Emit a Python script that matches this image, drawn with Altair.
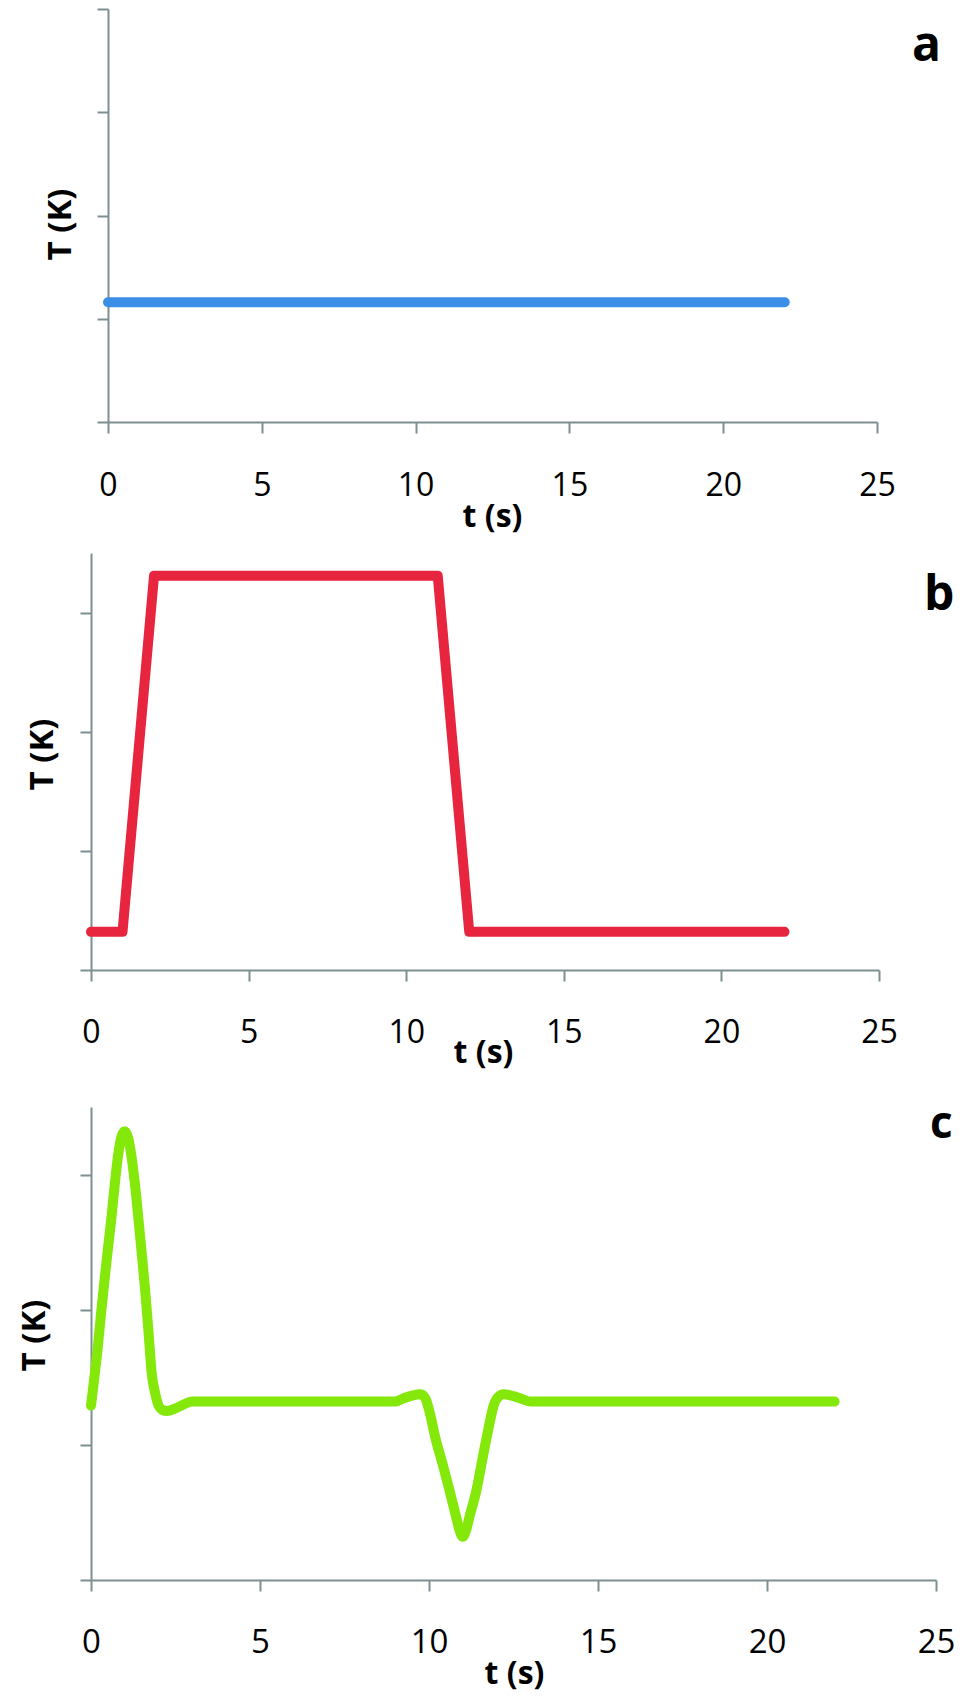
import altair as alt
import pandas as pd

# ---------------- data ----------------
t_a = [0, 22]
T_a = [1.16, 1.16]

t_b = [0, 1, 2, 11, 12, 22]
T_b = [0.32, 0.32, 3.31, 3.31, 0.32, 0.32]

t_c = [0, 0.1, 0.2, 0.3, 0.4, 0.5, 0.6, 0.7, 0.8, 0.9, 1.0, 1.1, 1.2, 1.3, 1.4,
       1.5, 1.6, 1.7, 1.8, 1.9, 2.0, 2.1, 2.25, 2.5, 2.75, 3.0, 9.0, 9.25, 9.5,
       9.75, 9.9, 10.0, 10.2, 10.4, 10.6, 10.8, 10.9, 11.0, 11.1, 11.2, 11.4,
       11.6, 11.8, 11.9, 12.0, 12.2, 12.5, 12.75, 13.0, 22.0]
T_c = [1.29, 1.50, 1.72, 1.98, 2.22, 2.45, 2.67, 2.92, 3.14, 3.28, 3.32, 3.27,
       3.13, 2.93, 2.68, 2.42, 2.15, 1.84, 1.52, 1.38, 1.29, 1.26, 1.25, 1.27,
       1.30, 1.32, 1.32, 1.345, 1.365, 1.375, 1.34, 1.26, 1.04, 0.86, 0.67,
       0.47, 0.37, 0.32, 0.37, 0.47, 0.66, 0.92, 1.17, 1.28, 1.34, 1.375, 1.36,
       1.34, 1.32, 1.32]

x_ticks = [0, 5, 10, 15, 20, 25]
x_domain = [0, 25]
y_ticks_a = [0, 1, 2, 3, 4]
y_domain_a = [0, 4]
y_ticks_bc = [0, 1, 2, 3]
y_domain_bc = [0, 3.5]

panel_letters = ["a", "b", "c"]
x_title = "t (s)"
y_title = "T (K)"

AXIS_COLOR = "#7D8F90"
FONT = "Open Sans"
BLUE = "#3A8EE6"
RED = "#E8253F"
GREEN = "#84E80A"

# drawing area (fits the 963x1699 page minus its 8px margins);
# each panel is placed through its own scale ranges
W, H = 947, 1683


def x_enc(xrange, axis_y, label_size, label_pad, title_x, title_y):
    return alt.X(
        "t:Q",
        scale=alt.Scale(domain=x_domain, range=xrange, nice=False, zero=False),
        axis=alt.Axis(orient="bottom", offset=axis_y - H, values=x_ticks,
                      title=x_title, labelFontSize=label_size,
                      labelPadding=label_pad, titleFontSize=32,
                      titleFontWeight="bold", titleX=title_x, titleY=title_y,
                      titleAlign="center", titleBaseline="top", tickSize=11,
                      labelFlush=False, labelOverlap=False))


def y_enc(yrange, ydomain, values, axis_x, title_x, title_y):
    return alt.Y(
        "T:Q",
        scale=alt.Scale(domain=ydomain, range=yrange, nice=False, zero=False),
        axis=alt.Axis(orient="left", offset=-axis_x, values=values,
                      title=y_title, labels=False, tickSize=11,
                      titleFontSize=33, titleFontWeight="bold",
                      titleX=title_x, titleY=title_y, titleAlign="center",
                      titleBaseline="middle", titleAngle=270))


def letter(ch, px, py, size):
    return alt.Chart(pd.DataFrame({"l": [ch]})).mark_text(
        font=FONT, fontSize=size, fontWeight="bold", align="left",
        baseline="alphabetic", color="black"
    ).encode(text="l:N", x=alt.value(px), y=alt.value(py))


# panel a
line_a = alt.Chart(pd.DataFrame({"t": t_a, "T": T_a})).mark_line(
    color=BLUE, strokeWidth=10, strokeCap="round"
).encode(
    x=x_enc([100, 869], 414, 32, 37.5, 484, 79),
    y=y_enc([414, 1], y_domain_a, y_ticks_a, 100, -48, 216),
)

# panel b
line_b = alt.Chart(pd.DataFrame({"t": t_b, "T": T_b})).mark_line(
    color=RED, strokeWidth=10, strokeCap="round", strokeJoin="round"
).encode(
    x=x_enc([83, 871], 962, 32, 36.5, 475, 67),
    y=y_enc([962, 545], y_domain_bc, y_ticks_bc, 83, -49, 746),
)

# panel c
line_c = alt.Chart(pd.DataFrame({"t": t_c, "T": T_c})).mark_line(
    color=GREEN, strokeWidth=10, strokeCap="round", strokeJoin="round",
    interpolate="monotone"
).encode(
    x=x_enc([83, 928], 1572, 33, 35, 506, 78),
    y=y_enc([1572, 1099], y_domain_bc, y_ticks_bc, 83, -57, 1327),
)

chart = alt.layer(
    line_a, line_b, line_c,
    letter(panel_letters[0], 904, 53, 48),
    letter(panel_letters[1], 916, 602, 48),
    letter(panel_letters[2], 922, 1130, 44),
).resolve_scale(x="independent", y="independent").resolve_axis(
    x="independent", y="independent"
).properties(
    width=W, height=H, padding=0
).configure_view(strokeWidth=0).configure_axis(
    domainColor=AXIS_COLOR, tickColor=AXIS_COLOR, domainWidth=2, tickWidth=2,
    grid=False, labelFont=FONT, titleFont=FONT, labelColor="black",
    titleColor="black"
)

chart.save("out.html", embed_options={"renderer": "svg", "actions": False})
